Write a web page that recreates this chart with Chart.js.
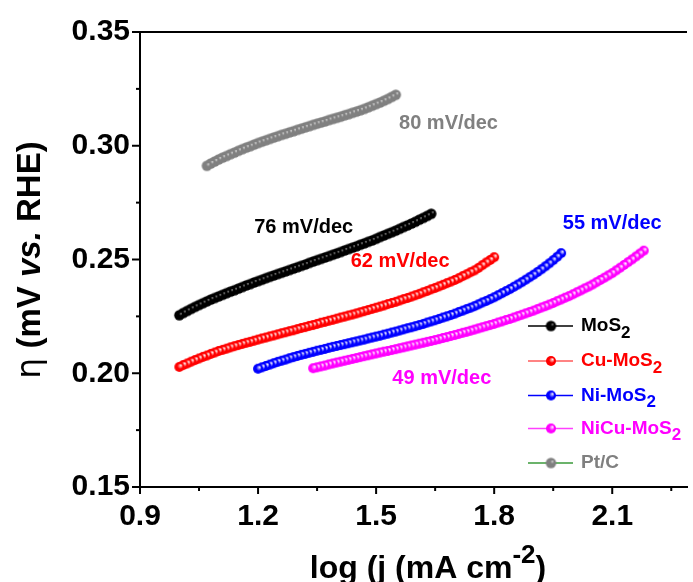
<!DOCTYPE html>
<html><head><meta charset="utf-8">
<script src="https://cdn.jsdelivr.net/npm/chart.js@4.4.1/dist/chart.umd.min.js"></script>
<style>html,body{margin:0;padding:0;background:#fff;overflow:hidden}canvas{display:block}</style>
</head><body>
<canvas id="c" width="693" height="582"></canvas>
<script>
// ---- data ----
const seriesNames = ['MoS2', 'Cu-MoS2', 'Ni-MoS2', 'NiCu-MoS2', 'Pt/C'];

const xMoS2 = [1.00,1.01,1.02,1.03,1.04,1.05,1.06,1.07,1.08,1.09,1.10,1.11,1.12,1.13,1.14,1.15,1.16,1.17,1.18,1.19,1.20,1.21,1.22,1.23,1.24,1.25,1.26,1.27,1.28,1.29,1.30,1.31,1.32,1.33,1.34,1.35,1.36,1.37,1.38,1.39,1.40,1.41,1.42,1.43,1.44,1.45,1.46,1.47,1.48,1.49,1.50,1.51,1.52,1.53,1.54,1.55,1.56,1.57,1.58,1.59,1.60,1.61,1.62,1.63,1.64];
const yMoS2 = [0.2255,0.2265,0.2274,0.2283,0.2292,0.2300,0.2308,0.2316,0.2324,0.2331,0.2338,0.2345,0.2352,0.2359,0.2365,0.2372,0.2379,0.2386,0.2392,0.2399,0.2405,0.2411,0.2418,0.2424,0.2430,0.2436,0.2442,0.2448,0.2454,0.2460,0.2466,0.2472,0.2478,0.2485,0.2491,0.2497,0.2503,0.2509,0.2515,0.2521,0.2527,0.2533,0.2540,0.2546,0.2552,0.2558,0.2565,0.2571,0.2578,0.2584,0.2591,0.2599,0.2606,0.2613,0.2620,0.2627,0.2635,0.2643,0.2650,0.2658,0.2666,0.2675,0.2683,0.2692,0.2701];

const xCuMoS2 = [1.00,1.01,1.02,1.03,1.04,1.05,1.06,1.07,1.08,1.09,1.10,1.11,1.12,1.13,1.14,1.15,1.16,1.17,1.18,1.19,1.20,1.21,1.22,1.23,1.24,1.25,1.26,1.27,1.28,1.29,1.30,1.31,1.32,1.33,1.34,1.35,1.36,1.37,1.38,1.39,1.40,1.41,1.42,1.43,1.44,1.45,1.46,1.47,1.48,1.49,1.50,1.51,1.52,1.53,1.54,1.55,1.56,1.57,1.58,1.59,1.60,1.61,1.62,1.63,1.64,1.65,1.66,1.67,1.68,1.69,1.70,1.71,1.72,1.73,1.74,1.75,1.76,1.77,1.78,1.79,1.80];
const yCuMoS2 = [0.2028,0.2036,0.2043,0.2051,0.2058,0.2065,0.2072,0.2078,0.2085,0.2091,0.2098,0.2103,0.2108,0.2114,0.2119,0.2124,0.2129,0.2134,0.2138,0.2143,0.2148,0.2153,0.2157,0.2162,0.2166,0.2171,0.2176,0.2180,0.2185,0.2189,0.2194,0.2199,0.2203,0.2208,0.2212,0.2217,0.2222,0.2226,0.2231,0.2235,0.2240,0.2245,0.2249,0.2254,0.2258,0.2263,0.2268,0.2273,0.2278,0.2283,0.2288,0.2293,0.2298,0.2304,0.2309,0.2314,0.2320,0.2326,0.2331,0.2337,0.2343,0.2349,0.2356,0.2362,0.2369,0.2375,0.2382,0.2389,0.2396,0.2403,0.2410,0.2418,0.2427,0.2435,0.2444,0.2452,0.2463,0.2475,0.2487,0.2498,0.2510];

const xNiMoS2 = [1.20,1.21,1.22,1.23,1.24,1.25,1.26,1.27,1.28,1.29,1.30,1.31,1.32,1.33,1.34,1.35,1.36,1.37,1.38,1.39,1.40,1.41,1.42,1.43,1.44,1.45,1.46,1.47,1.48,1.49,1.50,1.51,1.52,1.53,1.54,1.55,1.56,1.57,1.58,1.59,1.60,1.61,1.62,1.63,1.64,1.65,1.66,1.67,1.68,1.69,1.70,1.71,1.72,1.73,1.74,1.75,1.76,1.77,1.78,1.79,1.80,1.81,1.82,1.83,1.84,1.85,1.86,1.87,1.88,1.89,1.90,1.91,1.92,1.93,1.94,1.95,1.96,1.97];
const yNiMoS2 = [0.2020,0.2026,0.2032,0.2038,0.2044,0.2050,0.2055,0.2060,0.2066,0.2071,0.2076,0.2081,0.2085,0.2090,0.2094,0.2099,0.2103,0.2107,0.2112,0.2116,0.2120,0.2124,0.2128,0.2132,0.2136,0.2140,0.2144,0.2148,0.2153,0.2157,0.2161,0.2165,0.2170,0.2174,0.2179,0.2183,0.2188,0.2193,0.2198,0.2202,0.2207,0.2212,0.2217,0.2223,0.2228,0.2233,0.2239,0.2245,0.2250,0.2256,0.2262,0.2269,0.2275,0.2282,0.2288,0.2295,0.2303,0.2311,0.2318,0.2326,0.2334,0.2343,0.2352,0.2361,0.2370,0.2380,0.2390,0.2400,0.2411,0.2422,0.2433,0.2445,0.2457,0.2470,0.2483,0.2497,0.2512,0.2528];

const xNiCuMoS2 = [1.34,1.35,1.36,1.37,1.38,1.39,1.40,1.41,1.42,1.43,1.44,1.45,1.46,1.47,1.48,1.49,1.50,1.51,1.52,1.53,1.54,1.55,1.56,1.57,1.58,1.59,1.60,1.61,1.62,1.63,1.64,1.65,1.66,1.67,1.68,1.69,1.70,1.71,1.72,1.73,1.74,1.75,1.76,1.77,1.78,1.79,1.80,1.81,1.82,1.83,1.84,1.85,1.86,1.87,1.88,1.89,1.90,1.91,1.92,1.93,1.94,1.95,1.96,1.97,1.98,1.99,2.00,2.01,2.02,2.03,2.04,2.05,2.06,2.07,2.08,2.09,2.10,2.11,2.12,2.13,2.14,2.15,2.16,2.17,2.18];
const yNiCuMoS2 = [0.2022,0.2026,0.2030,0.2034,0.2039,0.2043,0.2047,0.2051,0.2055,0.2059,0.2063,0.2067,0.2071,0.2075,0.2079,0.2083,0.2087,0.2091,0.2095,0.2098,0.2102,0.2106,0.2110,0.2114,0.2118,0.2122,0.2126,0.2130,0.2134,0.2138,0.2142,0.2146,0.2150,0.2155,0.2159,0.2164,0.2168,0.2173,0.2178,0.2182,0.2187,0.2192,0.2197,0.2202,0.2207,0.2212,0.2217,0.2223,0.2228,0.2234,0.2239,0.2245,0.2251,0.2257,0.2263,0.2269,0.2275,0.2282,0.2289,0.2295,0.2302,0.2309,0.2317,0.2324,0.2332,0.2339,0.2347,0.2356,0.2364,0.2373,0.2381,0.2390,0.2400,0.2410,0.2420,0.2430,0.2440,0.2452,0.2464,0.2476,0.2488,0.2500,0.2513,0.2526,0.2539];

const xPtC = [1.07,1.08,1.09,1.10,1.11,1.12,1.13,1.14,1.15,1.16,1.17,1.18,1.19,1.20,1.21,1.22,1.23,1.24,1.25,1.26,1.27,1.28,1.29,1.30,1.31,1.32,1.33,1.34,1.35,1.36,1.37,1.38,1.39,1.40,1.41,1.42,1.43,1.44,1.45,1.46,1.47,1.48,1.49,1.50,1.51,1.52,1.53,1.54,1.55];
const yPtC = [0.2912,0.2922,0.2931,0.2940,0.2948,0.2955,0.2963,0.2970,0.2978,0.2985,0.2992,0.2998,0.3005,0.3012,0.3018,0.3024,0.3030,0.3036,0.3042,0.3048,0.3053,0.3059,0.3064,0.3070,0.3075,0.3081,0.3086,0.3092,0.3097,0.3102,0.3107,0.3113,0.3118,0.3123,0.3128,0.3134,0.3139,0.3145,0.3150,0.3156,0.3162,0.3169,0.3176,0.3183,0.3190,0.3198,0.3206,0.3215,0.3224];

const xTicks = [0.9, 1.2, 1.5, 1.8, 2.1];
const xMinorTicks = [1.05, 1.35, 1.65, 1.95, 2.25];
const yTicks = [0.15, 0.20, 0.25, 0.30, 0.35];
const yMinorTicks = [0.175, 0.225, 0.275, 0.325];

const slopeLabels = ['76 mV/dec', '62 mV/dec', '55 mV/dec', '49 mV/dec', '80 mV/dec'];

// ---- styles ----
const colors = ['#000000', '#ff0000', '#0000ff', '#ff00ff', '#808080'];
const legendLineColors = ['#000000', '#ff5a5a', '#0000ff', '#ff40ff', '#3a9a3a'];
const highlight = [0.3, 0.55, 0.55, 0.55, 0.35];
const labelPos = [[1.316, 0.2640], [1.561, 0.2490], [2.100, 0.2657], [1.667, 0.1979], [1.684, 0.3097]];
const FONT = '"Liberation Sans", Arial, sans-serif';

function ball(color, r, hl, hlColor) {
  const s = Math.ceil(2 * r + 2);
  const c = document.createElement('canvas');
  c.width = s; c.height = s;
  const g = c.getContext('2d');
  const cx = s / 2;
  const grad = g.createRadialGradient(cx + 0.35 * r, cx - 0.35 * r, 0, cx, cx, r);
  grad.addColorStop(0, hlColor);
  grad.addColorStop(hl, color);
  grad.addColorStop(1, color);
  g.fillStyle = grad;
  g.beginPath(); g.arc(cx, cx, r, 0, Math.PI * 2); g.fill();
  return c;
}

const xs = [xMoS2, xCuMoS2, xNiMoS2, xNiCuMoS2, xPtC];
const ys = [yMoS2, yCuMoS2, yNiMoS2, yNiCuMoS2, yPtC];
const hlColors = ['#a0a0a0', '#ffffff', '#ffffff', '#ffffff', '#dcdcdc'];
const radii = [5.2, 5, 5, 5, 5.2];

const datasets = seriesNames.map((n, k) => ({
  label: n,
  data: xs[k].map((v, i) => ({ x: v, y: ys[k][i] })).reverse(),
  showLine: false,
  pointStyle: ball(colors[k], radii[k], highlight[k], hlColors[k]),
  pointRadius: 5,
  borderColor: colors[k],
  backgroundColor: colors[k]
}));

const decor = {
  id: 'decor',
  afterDraw(chart) {
    const ctx = chart.ctx;
    const xS = chart.scales.x, yS = chart.scales.y;
    const a = chart.chartArea;
    ctx.save();
    ctx.strokeStyle = '#000'; ctx.lineWidth = 2;
    ctx.beginPath(); ctx.moveTo(a.left - 1, a.top); ctx.lineTo(a.right, a.top); ctx.stroke();
    yTicks.forEach(v => { const p = yS.getPixelForValue(v); ctx.beginPath(); ctx.moveTo(a.left - 8, p); ctx.lineTo(a.left, p); ctx.stroke(); });
    yMinorTicks.forEach(v => { const p = yS.getPixelForValue(v); ctx.beginPath(); ctx.moveTo(a.left - 4, p); ctx.lineTo(a.left, p); ctx.stroke(); });
    xTicks.forEach(v => { const p = xS.getPixelForValue(v); ctx.beginPath(); ctx.moveTo(p, a.bottom); ctx.lineTo(p, a.bottom + 7); ctx.stroke(); });
    xMinorTicks.forEach(v => { const p = xS.getPixelForValue(v); ctx.beginPath(); ctx.moveTo(p, a.bottom); ctx.lineTo(p, a.bottom + 4); ctx.stroke(); });

    // slope annotations
    ctx.textAlign = 'center'; ctx.textBaseline = 'middle';
    ctx.font = 'bold 20px ' + FONT;
    slopeLabels.forEach((t, k) => {
      ctx.fillStyle = colors[k];
      ctx.fillText(t, xS.getPixelForValue(labelPos[k][0]), yS.getPixelForValue(labelPos[k][1]));
    });

    // legend
    const rowY = [326, 361, 395.5, 428.5, 463];
    ctx.textAlign = 'left'; ctx.textBaseline = 'middle';
    seriesNames.forEach((n, k) => {
      const y = rowY[k];
      ctx.strokeStyle = legendLineColors[k]; ctx.lineWidth = 1.5;
      ctx.beginPath(); ctx.moveTo(528, y); ctx.lineTo(573, y); ctx.stroke();
      const b = datasets[k].pointStyle;
      ctx.drawImage(b, 551 - b.width / 2, y - b.height / 2);
      ctx.fillStyle = colors[k];
      const m = n.match(/^(.*?)(2)?$/);
      ctx.font = 'bold 19px ' + FONT;
      ctx.fillText(m[1], 581, y);
      if (m[2]) {
        const w = ctx.measureText(m[1]).width;
        ctx.font = 'bold 17px ' + FONT;
        ctx.fillText('2', 581 + w, y + 7);
      }
    });

    // x title
    ctx.fillStyle = '#000'; ctx.textBaseline = 'alphabetic'; ctx.textAlign = 'left';
    const xt = [['log (j (mA cm', 'bold 32px ' + FONT, 0], ['-2', 'bold 26px ' + FONT, -15], [')', 'bold 32px ' + FONT, 0]];
    let tw = 0;
    xt.forEach(p => { ctx.font = p[1]; tw += ctx.measureText(p[0]).width; });
    let xx = 428 - tw / 2;
    xt.forEach(p => { ctx.font = p[1]; ctx.fillText(p[0], xx, 578 + p[2]); xx += ctx.measureText(p[0]).width; });

    // y title (rotated)
    ctx.save();
    ctx.translate(40, 260); ctx.rotate(-Math.PI / 2);
    const yt = [['η', '33px "DejaVu Sans", sans-serif'], [' (mV ', 'bold 33px ' + FONT], ['vs.', 'italic bold 33px ' + FONT], [' RHE)', 'bold 33px ' + FONT]];
    tw = 0;
    yt.forEach(p => { ctx.font = p[1]; tw += ctx.measureText(p[0]).width; });
    xx = -tw / 2;
    yt.forEach(p => { ctx.font = p[1]; ctx.fillText(p[0], xx, 0); xx += ctx.measureText(p[0]).width; });
    ctx.restore();
    ctx.restore();
  }
};

new Chart(document.getElementById('c'), {
  type: 'scatter',
  data: { datasets },
  options: {
    responsive: false,
    animation: false,
    devicePixelRatio: 1,
    layout: { padding: { top: 32, right: 0, left: 0, bottom: 0 } },
    plugins: { legend: { display: false }, tooltip: { enabled: false } },
    scales: {
      x: {
        type: 'linear', min: 0.9, max: 2.29,
        afterBuildTicks: s => { s.ticks = xTicks.map(v => ({ value: v })); },
        afterFit: s => { s.height = 95; },
        grid: { display: false, drawTicks: false },
        border: { display: true, color: '#000', width: 2 },
        ticks: { padding: 12, color: '#000', font: { family: FONT, size: 30, weight: 'bold' }, callback: v => v.toFixed(1), maxRotation: 0 }
      },
      y: {
        type: 'linear', min: 0.15, max: 0.35,
        afterBuildTicks: s => { s.ticks = yTicks.map(v => ({ value: v })); },
        afterFit: s => { s.width = 140; },
        grid: { display: false, drawTicks: false },
        border: { display: true, color: '#000', width: 2 },
        ticks: { padding: 10, color: '#000', font: { family: FONT, size: 30, weight: 'bold' }, callback: v => v.toFixed(2) }
      }
    }
  },
  plugins: [decor]
});
</script>
</body></html>
